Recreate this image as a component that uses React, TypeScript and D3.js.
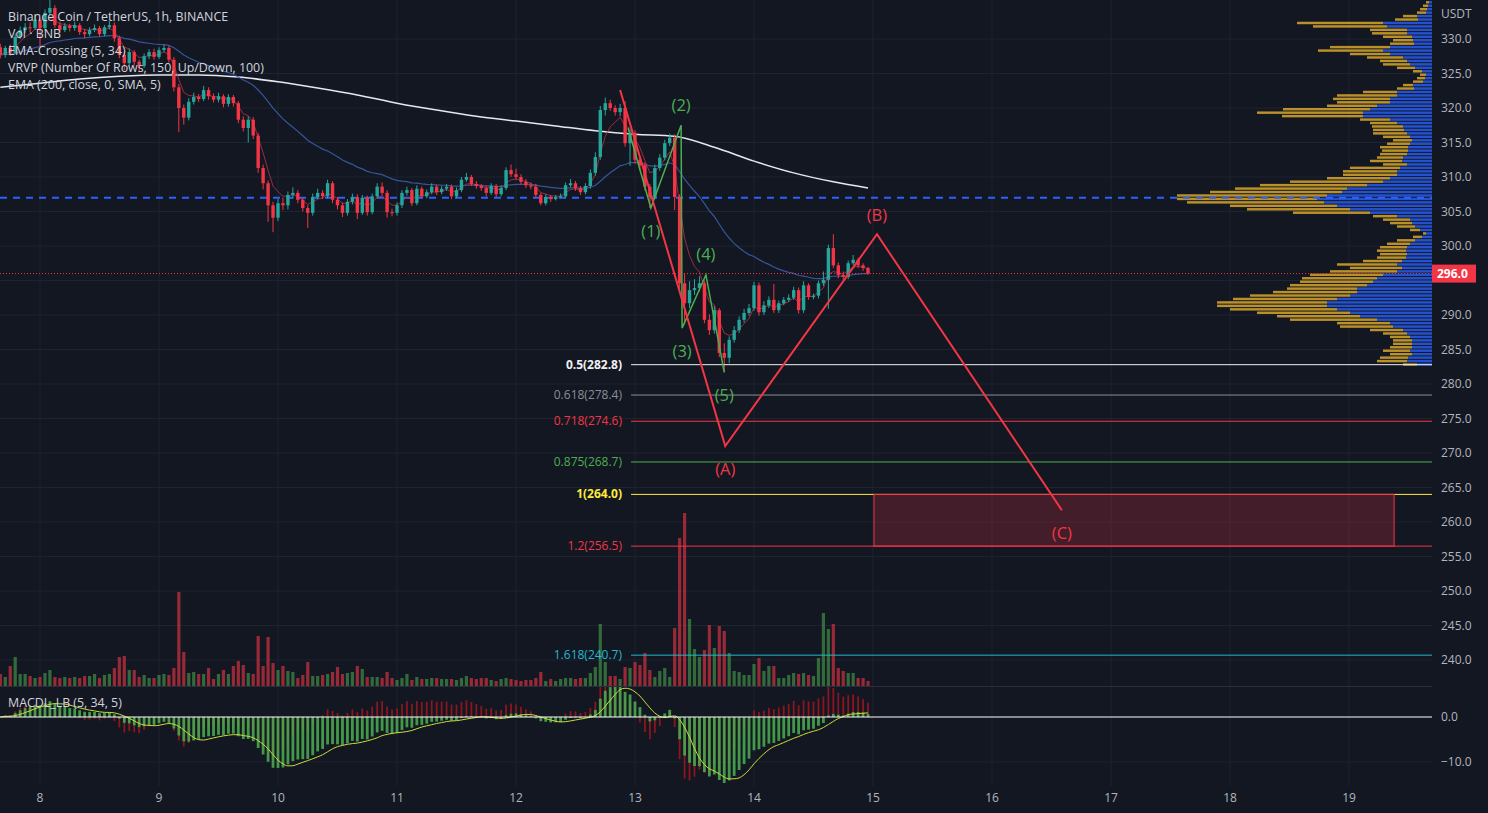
import { scaleLinear, line as d3Line, curveMonotoneX, max } from "d3";

// ---- candles (1h), index 0 = Nov 7 16:00 ----
const firstOpen = 328.8;
const closes = [
  327.7, 328.7, 328.0, 330.3, 331.3, 331.7, 331.6, 332.8, 331.6, 333.8,
  334.5, 332.0, 331.3, 331.9, 331.6, 332.0, 331.0, 330.7, 331.3, 331.6,
  330.7, 331.7, 332.0, 330.1, 327.7, 326.5, 328.1, 326.7, 326.1, 327.5,
  328.1, 327.4, 328.4, 328.7, 327.0, 323.0, 320.0, 318.6, 320.9, 321.6,
  321.3, 322.6, 321.7, 321.2, 321.7, 320.6, 321.6, 320.7, 318.3, 317.1,
  318.3, 316.0, 311.3, 309.1, 305.9, 304.1, 306.2, 305.9, 307.4, 307.7,
  306.7, 305.5, 304.8, 307.1, 307.7, 307.2, 309.1, 306.7, 305.9, 304.8,
  306.4, 307.1, 304.8, 307.0, 304.9, 307.2, 308.6, 307.7, 304.9, 304.8,
  305.9, 307.7, 308.1, 306.2, 308.3, 307.2, 307.8, 308.6, 307.8, 308.3,
  308.6, 307.2, 308.1, 309.6, 310.0, 309.0, 308.7, 308.4, 307.7, 308.7,
  307.5, 308.4, 311.0, 310.4, 310.0, 309.3, 308.8, 308.6, 307.4, 306.2,
  307.1, 306.8, 307.1, 307.2, 308.8, 309.1, 308.4, 307.8, 308.7, 310.6,
  312.9, 319.7, 320.7, 320.0, 319.4, 320.0, 314.9, 316.4, 312.5, 311.7,
  308.6, 307.1, 311.3, 312.8, 314.9, 315.7, 307.1, 294.6, 291.7, 293.6,
  293.9, 294.6, 289.3, 287.8, 290.7, 284.5, 283.8, 286.4, 287.8, 289.3,
  290.3, 291.0, 294.3, 290.4, 291.4, 292.2, 290.7, 291.7, 292.2, 292.5,
  293.6, 290.7, 294.3, 292.6, 292.8, 294.6, 295.1, 299.7, 297.2, 295.8,
  295.5, 297.5, 298.0, 297.2, 296.8, 296.0,
];
const highs = [
  329.3, 329.0, 329.2, 330.8, 331.8, 332.3, 332.4, 333.3, 333.1, 334.3,
  336.0, 334.9, 332.5, 332.3, 332.2, 332.5, 332.3, 331.5, 331.7, 332.1,
  331.9, 332.0, 332.6, 332.4, 330.5, 328.2, 328.6, 328.4, 327.0, 327.9,
  328.5, 328.6, 328.8, 329.2, 329.0, 327.4, 323.5, 320.5, 321.4, 322.2,
  322.0, 323.2, 323.0, 322.1, 322.2, 322.0, 322.0, 321.9, 321.0, 318.8,
  318.8, 318.7, 316.4, 311.8, 309.5, 306.4, 306.8, 307.0, 307.9, 308.5,
  308.1, 307.0, 305.9, 307.6, 308.3, 308.1, 309.6, 309.4, 307.1, 306.3,
  306.8, 307.6, 307.5, 307.4, 307.3, 307.6, 309.1, 309.2, 308.1, 305.4,
  306.3, 308.1, 308.6, 308.4, 308.8, 308.6, 308.2, 309.1, 308.9, 308.7,
  309.0, 308.9, 308.5, 310.0, 310.6, 310.3, 309.4, 309.0, 308.7, 309.1,
  309.0, 308.8, 311.4, 311.8, 311.2, 310.4, 309.7, 309.2, 309.0, 307.7,
  307.5, 307.4, 307.4, 307.6, 309.2, 309.7, 309.4, 308.7, 309.1, 311.1,
  313.6, 320.3, 321.5, 321.2, 320.4, 320.6, 321.0, 316.9, 316.8, 313.0,
  312.1, 309.0, 311.8, 313.3, 315.4, 316.3, 316.2, 307.5, 296.1, 294.9,
  295.2, 295.6, 295.0, 290.1, 291.3, 291.0, 285.9, 286.9, 288.4, 289.8,
  290.9, 291.6, 294.8, 294.7, 292.0, 292.7, 294.5, 292.1, 292.6, 293.0,
  294.1, 294.0, 294.9, 294.6, 293.1, 295.0, 296.3, 300.2, 301.7, 297.6,
  296.3, 297.9, 298.7, 298.3, 297.5, 297.0,
];
const lows = [
  327.2, 327.3, 327.6, 327.8, 330.0, 330.9, 331.0, 331.3, 328.9, 331.2,
  333.4, 331.6, 330.8, 331.0, 331.1, 331.2, 330.6, 330.1, 330.4, 331.0,
  330.3, 330.4, 331.4, 329.6, 327.2, 325.5, 326.2, 326.2, 325.2, 325.8,
  327.1, 327.0, 327.1, 328.1, 326.6, 322.4, 316.5, 317.6, 318.2, 320.5,
  320.9, 321.0, 321.2, 320.8, 320.8, 320.1, 320.2, 320.2, 317.8, 316.6,
  315.0, 315.5, 310.6, 308.2, 303.5, 302.0, 303.6, 305.2, 305.3, 306.9,
  306.2, 305.0, 302.6, 304.4, 306.8, 306.8, 306.9, 306.2, 305.3, 304.2,
  304.4, 306.0, 303.9, 304.5, 304.4, 304.6, 306.9, 307.3, 304.1, 304.3,
  304.4, 305.5, 307.3, 305.8, 305.9, 306.9, 306.9, 307.5, 307.4, 307.5,
  308.0, 306.8, 306.9, 307.8, 309.3, 308.7, 308.3, 308.0, 307.2, 307.4,
  307.1, 307.2, 308.1, 310.0, 309.6, 308.9, 308.4, 308.2, 307.0, 305.9,
  305.9, 306.4, 306.6, 306.9, 306.9, 308.5, 308.0, 307.4, 307.5, 308.3,
  310.2, 312.5, 318.9, 319.6, 318.9, 318.8, 314.4, 311.6, 311.9, 310.9,
  308.0, 305.5, 306.8, 310.9, 312.4, 314.5, 305.2, 293.8, 288.6, 291.0,
  292.9, 293.4, 288.8, 287.1, 287.3, 283.9, 281.7, 283.0, 286.0, 287.4,
  288.9, 289.9, 290.6, 289.9, 290.0, 291.0, 290.3, 290.3, 291.4, 291.9,
  292.2, 290.2, 290.3, 292.2, 292.3, 292.4, 294.2, 290.9, 296.8, 295.3,
  295.1, 295.2, 297.2, 296.8, 296.4, 295.8,
];
// volume, in hundreds of BNB
const volumes = [
  12, 9, 20, 29, 12, 12, 10, 8, 9, 13, 16, 9, 8, 9, 8, 9, 8, 10, 10, 12,
  8, 11, 12, 18, 29, 30, 16, 16, 9, 11, 8, 8, 11, 12, 11, 18, 94, 34, 13, 14,
  12, 12, 18, 7, 12, 16, 12, 20, 25, 21, 13, 12, 50, 20, 49, 23, 16, 20, 15, 14,
  8, 11, 24, 10, 10, 11, 12, 14, 19, 12, 13, 14, 20, 17, 9, 9, 9, 8, 14, 8,
  6, 8, 12, 6, 9, 7, 7, 8, 8,
  7, 7, 7, 6, 8, 10, 8, 7, 8, 8, 6, 5, 7, 8, 7, 6, 5, 6, 6, 8,
  14, 5, 7, 5, 7, 8, 8, 7, 8, 8, 13, 19, 62, 24, 10, 10, 7, 19, 18, 24,
  21, 33, 16, 9, 15, 18, 9, 58, 148, 173, 67, 37, 29, 36, 61, 38, 60, 55, 33, 15,
  14, 11, 11, 22, 28, 15, 20, 20, 8, 8, 11, 13, 12, 13, 11, 10, 28, 73, 57, 62,
  18, 15, 13, 13, 8, 8, 5,
];

// EMA 200 (at every 8th candle)
const ema200Idx = [0, 8, 16, 24, 32, 40, 48, 56, 64, 72, 80, 88, 96, 104, 112, 120, 128, 136, 144, 152, 160, 168, 175];
const ema200Val = [323.0, 323.6, 324.2, 324.6, 324.8, 324.8, 324.5, 323.8, 322.9, 321.9, 320.7, 319.7, 318.8, 318.1, 317.4, 316.7, 316.2, 315.9, 314.3, 312.3, 310.6, 309.3, 308.4];

// VRVP rows (0.5 USDT each, from 336.0 downward)
const profileTop = 336.0;
const profileStep = 0.5;
const profileUp = [
  2, 3, 4, 5, 6, 15, 14, 49, 45, 25, 25, 20, 19, 18, 42, 49, 42, 29, 25, 22,
  17, 10, 6, 7, 9, 19, 18, 35, 35, 42, 42, 55, 62, 69, 69, 42, 35, 29, 28, 25,
  22, 20, 22, 24, 24, 25, 29, 30, 25, 32, 35, 35, 42, 49, 65, 85, 90, 105, 115, 108,
  95, 82, 62, 35, 22, 20, 17, 12, 6, 10, 17, 22, 25, 26, 25, 26, 30, 35, 30, 35,
  49, 55, 59, 65, 75, 75, 82, 95, 105, 105, 95, 82, 72, 55, 42, 39, 29, 25, 22, 20,
  20, 20, 22, 20, 24, 25, 15,
];
const profileDown = [
  2, 3, 5, 7, 9, 14, 23, 86, 74, 37, 35, 29, 20, 24, 60, 65, 40, 36, 27, 27,
  18, 9, 6, 8, 10, 10, 17, 34, 60, 57, 53, 50, 87, 106, 81, 30, 27, 31, 31, 34,
  27, 19, 23, 28, 26, 27, 26, 32, 24, 50, 54, 54, 63, 93, 107, 112, 132, 150, 140, 137,
  107, 103, 77, 24, 27, 22, 18, 10, 3, 9, 18, 23, 27, 29, 27, 29, 39, 60, 52, 67,
  73, 75, 73, 77, 70, 84, 100, 104, 110, 110, 107, 93, 83, 87, 53, 53, 33, 24, 20, 19,
  19, 22, 27, 22, 28, 30, 14,
];
const pocPrice = 307.0;

// Fibonacci levels
const fibRatios = ["0.5", "0.618", "0.718", "0.875", "1", "1.2", "1.618"];
const fibPrices = [282.8, 278.4, 274.6, 268.7, 264.0, 256.5, 240.7];
const fibColors = ["#f0f0f0", "#8a8d96", "#f23645", "#4caf50", "#ffeb3b", "#f23645", "#22b8cf"];
const fibBold = [true, false, false, false, true, false, false];
const fibStartIdx = 127.2;

// Elliott waves (candle index, price)
const waveIdx = [126.6, 131.2, 137.3, 137.5, 142.3, 146.0];
const wavePrice = [317.1, 305.5, 317.5, 288.1, 295.8, 281.7];
const waveLabels = ["", "(1)", "(2)", "(3)", "(4)", "(5)"];
const waveBelow = [false, true, false, true, false, true];

const abcIdx = [125.0, 146.2, 176.8, 214.1];
const abcPrice = [322.6, 271.0, 301.7, 261.7];
const abcLabels = ["", "(A)", "(B)", "(C)"];
const abcBelow = [false, true, false, true];

// target zone
const zoneIdx = [176.2, 281.1];
const zonePrice = [264.0, 256.5];

const priceTicks = [330, 325, 320, 315, 310, 305, 300, 295, 290, 285, 280, 275, 270, 265, 260, 255, 250, 245, 240];
const dayTicks = [8, 9, 10, 11, 12, 13, 14, 15, 16, 17, 18, 19];
const macdTicks = [0, -10];

const legend = [
  "Binance Coin / TetherUS, 1h, BINANCE",
  "Vol · BNB",
  "EMA-Crossing (5, 34)",
  "VRVP (Number Of Rows, 150, Up/Down, 100)",
  "EMA (200, close, 0, SMA, 5)",
];

// ---- indicator helpers ----
function ema(values: number[], n: number) {
  const k = 2 / (n + 1);
  const out: number[] = [];
  values.forEach((v, i) => out.push(i === 0 ? v : v * k + out[i - 1] * (1 - k)));
  return out;
}
function sma(values: number[], n: number) {
  return values.map((_, i) => {
    const s = values.slice(Math.max(0, i - n + 1), i + 1);
    return s.reduce((a, b) => a + b, 0) / s.length;
  });
}

const W = 1488;
const H = 813;
const PANE_R = 1432;
const MAIN_B = 686;
const MACD_T = 687;
const MACD_B = 786;
const BG = "#131722";
const GRID = "#1f2330";
const TEXT = "#b2b5be";
const UP = "#26a69a";
const DOWN = "#f23645";
const FONT = "'Open Sans', 'Noto Sans', sans-serif";

export default function App() {
  const opens = closes.map((_, i) => (i === 0 ? firstOpen : closes[i - 1]));
  const x = scaleLinear().domain([0, 24 * 11]).range([40, 1349]);
  const xi = (i: number) => x(i - 8);
  const y = scaleLinear().domain([240, 330]).range([660, 39]);
  const yVol = scaleLinear().domain([0, 200]).range([MAIN_B, MAIN_B - 200]);
  const yMacd = scaleLinear().domain([-10, 0]).range([762, 717]);

  const ema5 = ema(closes, 5);
  const ema34 = ema(closes, 34);
  const macd = ema5.map((v, i) => v - ema34[i]);
  const c5 = ema(closes.map((c, i) => c - ema5[i]), 5);
  const c34 = ema(closes.map((c, i) => c - ema34[i]), 34);
  const leader = macd.map((m, i) => ema5[i] + c5[i] - (ema34[i] + c34[i]));
  const signal = sma(macd, 5);

  const lineGen = d3Line<number>()
    .x((_, i) => xi(i))
    .y((d) => y(d));
  const ema200Line = d3Line<number>()
    .x((_, i) => xi(ema200Idx[i]))
    .y((d) => y(d))
    .curve(curveMonotoneX);
  const signalLine = d3Line<number>()
    .x((_, i) => xi(i))
    .y((d) => yMacd(d))
    .curve(curveMonotoneX);

  const totals = profileUp.map((u, i) => u + profileDown[i]);
  const pw = scaleLinear().domain([0, max(totals) as number]).range([0, 255]);

  const lastClose = closes[closes.length - 1];
  const lastColor = DOWN;
  const lastY = y(lastClose);

  const wavePath = waveIdx.map((d, i) => `${i ? "L" : "M"}${xi(d)},${y(wavePrice[i])}`).join("");
  const abcPath = abcIdx.map((d, i) => `${i ? "L" : "M"}${xi(d)},${y(abcPrice[i])}`).join("");

  return (
    <svg
      width={W}
      height={H}
      style={{ position: "fixed", left: 0, top: 0, background: BG, fontFamily: FONT }}
    >
      <defs>
        <clipPath id="main-clip">
          <rect x={0} y={0} width={PANE_R} height={MAIN_B} />
        </clipPath>
        <clipPath id="macd-clip">
          <rect x={0} y={MACD_T} width={PANE_R} height={MACD_B - MACD_T} />
        </clipPath>
      </defs>
      <rect width={W} height={H} fill={BG} />

      {/* grid */}
      {dayTicks.map((d) => (
        <line key={"vg" + d} x1={x((d - 8) * 24)} x2={x((d - 8) * 24)} y1={0} y2={MACD_B} stroke={GRID} />
      ))}
      {priceTicks.map((p) => (
        <line key={"hg" + p} x1={0} x2={PANE_R} y1={y(p)} y2={y(p)} stroke={GRID} />
      ))}
      <line x1={0} x2={PANE_R} y1={yMacd(-10)} y2={yMacd(-10)} stroke={GRID} />

      <g clipPath="url(#main-clip)">
        {/* volume */}
        {volumes.map((v, i) => (
          <rect
            key={"v" + i}
            x={xi(i) - 1.6}
            width={3.2}
            y={yVol(v)}
            height={yVol(0) - yVol(v)}
            fill={closes[i] >= opens[i] ? "rgba(76,175,80,0.55)" : "rgba(242,54,69,0.6)"}
          />
        ))}

        {/* volume profile */}
        {profileUp.map((u, k) => {
          const top = y(profileTop - k * profileStep);
          const h = y(profileTop - (k + 1) * profileStep) - top - 1;
          const wu = pw(u);
          const wt = pw(u + profileDown[k]);
          return (
            <g key={"p" + k}>
              <rect x={PANE_R - wt} y={top} width={wt - wu} height={h} fill="rgba(251,192,45,0.72)" />
              <rect x={PANE_R - wu} y={top} width={wu} height={h} fill="rgba(41,98,255,0.78)" />
            </g>
          );
        })}

        {/* POC line */}
        <line x1={0} x2={PANE_R} y1={y(pocPrice)} y2={y(pocPrice)} stroke="#2962ff" strokeWidth={2} strokeDasharray="7 6" />

        {/* EMA lines */}
        <path d={ema200Line(ema200Val) ?? ""} fill="none" stroke="#e6e8ee" strokeWidth={1.5} />
        <path d={lineGen(ema34) ?? ""} fill="none" stroke="#3d5fb0" strokeWidth={1.2} opacity={0.85} />
        <path d={lineGen(ema5) ?? ""} fill="none" stroke="#b8334d" strokeWidth={1} opacity={0.8} />

        {/* candles */}
        {closes.map((c, i) => {
          const o = opens[i];
          const col = c >= o ? UP : DOWN;
          const top = y(Math.max(o, c));
          const bot = y(Math.min(o, c));
          return (
            <g key={"c" + i}>
              <line x1={xi(i)} x2={xi(i)} y1={y(highs[i])} y2={y(lows[i])} stroke={col} strokeWidth={1} />
              <rect x={xi(i) - 1.7} width={3.4} y={top} height={Math.max(1, bot - top)} fill={col} />
            </g>
          );
        })}

        {/* current price line */}
        <line x1={0} x2={PANE_R} y1={lastY} y2={lastY} stroke={lastColor} strokeWidth={1} strokeDasharray="1 2" />

        {/* fib levels */}
        {fibPrices.map((p, i) => (
          <g key={"f" + i}>
            <line x1={xi(fibStartIdx)} x2={PANE_R} y1={y(p)} y2={y(p)} stroke={fibColors[i]} strokeWidth={1} />
            <text
              x={xi(fibStartIdx) - 9}
              y={y(p) + 4}
              textAnchor="end"
              fontSize={12}
              fontWeight={fibBold[i] ? 700 : 400}
              fill={fibColors[i]}
            >
              {`${fibRatios[i]}(${p.toFixed(1)})`}
            </text>
          </g>
        ))}

        {/* target zone */}
        <rect
          x={xi(zoneIdx[0])}
          y={y(zonePrice[0])}
          width={xi(zoneIdx[1]) - xi(zoneIdx[0])}
          height={y(zonePrice[1]) - y(zonePrice[0])}
          fill="rgba(242,54,69,0.22)"
          stroke={DOWN}
          strokeWidth={1}
        />

        {/* waves */}
        <path d={wavePath} fill="none" stroke="#4caf50" strokeWidth={1.5} />
        <path d={abcPath} fill="none" stroke={DOWN} strokeWidth={2} />
        {waveLabels.map((l, i) =>
          l ? (
            <text
              key={"wl" + i}
              x={xi(waveIdx[i])}
              y={y(wavePrice[i]) + (waveBelow[i] ? 22 : -21)}
              textAnchor="middle"
              dominantBaseline="central"
              fontSize={16.5}
              fill="#4caf50"
            >
              {l}
            </text>
          ) : null
        )}
        {abcLabels.map((l, i) =>
          l ? (
            <text
              key={"al" + i}
              x={xi(abcIdx[i])}
              y={y(abcPrice[i]) + (abcBelow[i] ? 22 : -20)}
              textAnchor="middle"
              dominantBaseline="central"
              fontSize={16.5}
              fill={DOWN}
            >
              {l}
            </text>
          ) : null
        )}
      </g>

      {/* pane separator */}
      <line x1={0} x2={PANE_R} y1={MAIN_B + 0.5} y2={MAIN_B + 0.5} stroke="#2a2e39" />

      {/* MACD pane */}
      <g clipPath="url(#macd-clip)">
        {leader.map((v, i) => (
          <rect
            key={"l" + i}
            x={xi(i) - 0.9}
            width={1.8}
            y={Math.min(yMacd(v), yMacd(0))}
            height={Math.abs(yMacd(v) - yMacd(0))}
            fill="#8a1620"
          />
        ))}
        {macd.map((v, i) => (
          <rect
            key={"m" + i}
            x={xi(i) - 1.4}
            width={2.8}
            y={Math.min(yMacd(v), yMacd(0))}
            height={Math.abs(yMacd(v) - yMacd(0))}
            fill="#4caf50"
            opacity={0.85}
          />
        ))}
        <path d={signalLine(signal) ?? ""} fill="none" stroke="#cddc39" strokeWidth={1} />
        <line x1={0} x2={PANE_R} y1={yMacd(0)} y2={yMacd(0)} stroke="#ffffff" strokeWidth={1} />
      </g>

      {/* legends */}
      {legend.map((t, i) => (
        <text key={"lg" + i} x={8} y={21 + i * 17} fontSize={12.4} fill="#d1d4dc">
          {t}
        </text>
      ))}
      <text x={8} y={707} fontSize={12.4} fill="#d1d4dc">
        MACDL_LB (5, 34, 5)
      </text>

      {/* price axis */}
      <text x={1441} y={18} fontSize={12} fill={TEXT}>
        USDT
      </text>
      {priceTicks
        .filter((p) => Math.abs(y(p) - lastY) > 12)
        .map((p) => (
          <text key={"pt" + p} x={1441} y={y(p) + 4} fontSize={12} fill={TEXT}>
            {p.toFixed(1)}
          </text>
        ))}
      <rect x={PANE_R} y={lastY - 9} width={44} height={18} fill={lastColor} />
      <text x={1437} y={lastY + 4.5} fontSize={12} fontWeight={700} fill="#ffffff">
        {lastClose.toFixed(1)}
      </text>
      {macdTicks.map((m) => (
        <text key={"mt" + m} x={1441} y={yMacd(m) + 4} fontSize={12} fill={TEXT}>
          {m === 0 ? "0.0" : `\u2212${Math.abs(m).toFixed(1)}`}
        </text>
      ))}

      {/* time axis */}
      {dayTicks.map((d) => (
        <text key={"dt" + d} x={x((d - 8) * 24)} y={802} fontSize={12} textAnchor="middle" fill={TEXT}>
          {d}
        </text>
      ))}
    </svg>
  );
}
